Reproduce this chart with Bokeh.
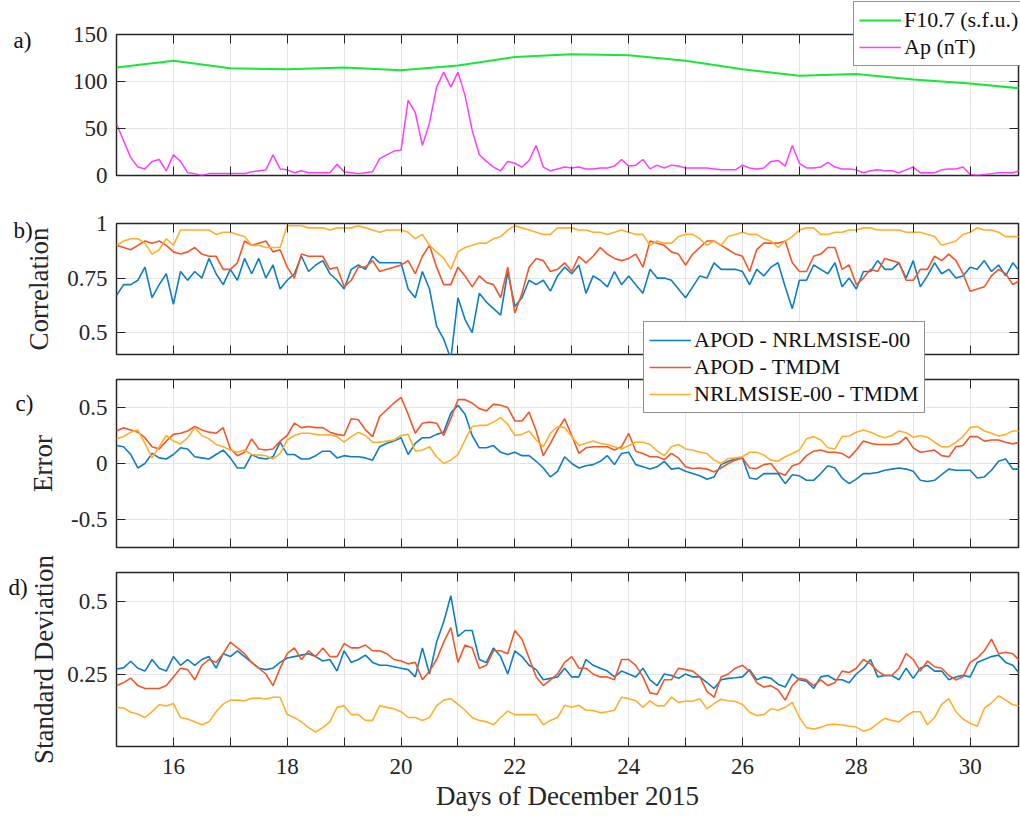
import math
import numpy as np
from bokeh.plotting import figure
from bokeh.models import (Range1d, LinearAxis, FixedTicker, Legend, LegendItem, Label,
                          CustomJSTickFormatter)
from bokeh.layouts import column
from bokeh.embed import file_html
from bokeh.resources import INLINE

# ---------------- data ----------------
f107_days = list(range(15, 32))
f107 = [115, 122, 114, 113, 115, 112, 117, 126, 129, 128, 122, 113, 106, 108, 102, 98, 92]

# 3-hourly samples starting at day 15.0
step_days = 1.0 / 8.0
ap = [55, 37, 19, 9, 7, 15, 17, 5,
      22, 15, 3, 2, 0, 2, 2, 2,
      2, 2, 2, 4, 5, 6, 22, 7,
      6, 3, 5, 3, 3, 3, 3, 12,
      4, 3, 2, 3, 4, 18, 22, 26,
      27, 80, 67, 32, 56, 94, 110, 94,
      110, 85, 48, 22, 15, 9, 5, 15,
      13, 9, 16, 32, 9, 5, 7, 9,
      8, 9, 7, 7, 8, 8, 10, 17,
      10, 11, 17, 7, 11, 8, 11, 10,
      8, 8, 8, 8, 7, 6, 6, 6,
      11, 8, 7, 8, 15, 16, 10, 32,
      13, 8, 8, 9, 14, 9, 7, 7,
      6, 3, 5, 6, 5, 5, 3, 6,
      9, 3, 3, 3, 6, 7, 7, 9,
      1, 0, 1, 2, 3, 3, 3, 5,
      5]

corr_apod_nrl = [0.67, 0.72, 0.72, 0.74, 0.80, 0.66, 0.72, 0.77, 0.63, 0.78,
                 0.74, 0.78, 0.75, 0.84, 0.77, 0.72, 0.79, 0.74, 0.84, 0.77,
                 0.84, 0.75, 0.81, 0.70, 0.74, 0.77, 0.85, 0.78, 0.81, 0.83,
                 0.77, 0.74, 0.70, 0.79, 0.81, 0.79, 0.85, 0.82, 0.82, 0.82,
                 0.82, 0.70, 0.66, 0.78, 0.70, 0.53, 0.47, 0.38, 0.66, 0.56,
                 0.50, 0.68, 0.64, 0.61, 0.58, 0.78, 0.62,
                 0.66, 0.74, 0.72, 0.74, 0.69, 0.76, 0.80, 0.77, 0.81, 0.68,
                 0.76, 0.74, 0.71, 0.78, 0.72, 0.76, 0.72, 0.68, 0.79, 0.75,
                 0.75, 0.74, 0.70, 0.66, 0.71, 0.76, 0.75, 0.82, 0.79, 0.79,
                 0.79, 0.78, 0.72, 0.79, 0.76, 0.80, 0.82, 0.71, 0.61, 0.74,
                 0.74, 0.81, 0.79, 0.77, 0.82, 0.71, 0.75, 0.70, 0.78, 0.78,
                 0.83, 0.79, 0.79, 0.82, 0.75, 0.83, 0.71, 0.76, 0.82, 0.77,
                 0.79, 0.75, 0.76, 0.80, 0.79, 0.83, 0.78, 0.81, 0.76, 0.82,
                 0.78, 0.78]
corr_apod_tmdm = [0.90, 0.89, 0.88, 0.90, 0.92, 0.91, 0.92, 0.90, 0.87, 0.86,
                  0.87, 0.89, 0.86, 0.85, 0.85, 0.79, 0.79, 0.82, 0.92, 0.90,
                  0.91, 0.92, 0.87, 0.88, 0.80, 0.75, 0.86, 0.85, 0.85, 0.85,
                  0.79, 0.80, 0.71, 0.74, 0.80, 0.80, 0.83, 0.78, 0.79, 0.80,
                  0.81, 0.83, 0.77, 0.85, 0.90, 0.80, 0.72, 0.72, 0.80, 0.76,
                  0.71, 0.76, 0.73, 0.72, 0.66, 0.80, 0.59,
                  0.68, 0.80, 0.84, 0.83, 0.78, 0.79, 0.82, 0.78, 0.85, 0.82,
                  0.85, 0.89, 0.86, 0.84, 0.83, 0.84, 0.86, 0.80, 0.92, 0.91,
                  0.90, 0.87, 0.86, 0.81, 0.86, 0.89, 0.92, 0.92, 0.90, 0.88,
                  0.86, 0.85, 0.78, 0.88, 0.91, 0.91, 0.91, 0.92, 0.82, 0.78,
                  0.78, 0.85, 0.86, 0.89, 0.89, 0.79, 0.81, 0.72, 0.75, 0.79,
                  0.78, 0.84, 0.83, 0.82, 0.74, 0.74, 0.79, 0.79, 0.85, 0.83,
                  0.86, 0.83, 0.77, 0.69, 0.70, 0.71, 0.76, 0.79, 0.77, 0.72,
                  0.74, 0.74]
corr_nrl_tmdm = [0.90, 0.92, 0.93, 0.93, 0.91, 0.86, 0.88, 0.93, 0.90, 0.97,
                 0.97, 0.97, 0.97, 0.97, 0.95, 0.96, 0.96, 0.95, 0.94, 0.90,
                 0.90, 0.89, 0.89, 0.89, 0.99, 0.99, 0.99, 0.98, 0.98, 0.98,
                 0.97, 0.98, 0.98, 0.98, 0.99, 0.98, 0.97, 0.96, 0.97, 0.97,
                 0.97, 0.96, 0.93, 0.95, 0.90, 0.87, 0.84, 0.79, 0.87, 0.89,
                 0.90, 0.91, 0.91, 0.93, 0.94, 0.97, 0.99,
                 0.98, 0.97, 0.96, 0.95, 0.95, 0.98, 0.98, 0.98, 0.97, 0.97,
                 0.96, 0.96, 0.95, 0.96, 0.97, 0.96, 0.95, 0.95, 0.90, 0.92,
                 0.91, 0.91, 0.94, 0.95, 0.95, 0.93, 0.90, 0.92, 0.90, 0.94,
                 0.95, 0.96, 0.95, 0.95, 0.93, 0.92, 0.89, 0.92, 0.94, 0.97,
                 0.98, 0.98, 0.95, 0.95, 0.96, 0.96, 0.97, 0.97, 0.98, 0.98,
                 0.97, 0.97, 0.97, 0.97, 0.96, 0.96, 0.96, 0.95, 0.94, 0.90,
                 0.91, 0.92, 0.95, 0.96, 0.98, 0.97, 0.97, 0.96, 0.94, 0.94,
                 0.94, 0.94]

err_apod_nrl = [0.16, 0.15, 0.08, -0.04, 0.00, 0.09, 0.05, 0.04, 0.08, 0.14,
                0.13, 0.06, 0.05, 0.04, 0.08, 0.12, 0.05, -0.04, -0.04, 0.08,
                0.05, 0.04, 0.06, 0.19, 0.08, 0.08, 0.04, 0.04, 0.07, 0.11,
                0.11, 0.05, 0.07, 0.06, 0.06, 0.05, 0.03, 0.15, 0.18, 0.20,
                0.23, 0.08, 0.18, 0.23, 0.23, 0.26, 0.28, 0.45, 0.52, 0.44,
                0.25, 0.14, 0.14, 0.16, 0.10, 0.08, 0.10,
                0.07, 0.07, 0.02, -0.04, -0.12, -0.07, 0.06, 0.00, -0.04, -0.02,
                -0.01, 0.02, 0.07, -0.01, 0.09, 0.10, -0.01, -0.03, -0.05, -0.03,
                0.02, -0.05, -0.04, -0.07, -0.09, -0.11, -0.14, -0.12, -0.01, 0.02,
                0.04, 0.05, -0.13, -0.14, -0.09, -0.09, -0.09, -0.18, -0.10, -0.11,
                -0.15, -0.15, -0.09, -0.02, -0.04, -0.13, -0.18, -0.14, -0.09, -0.09,
                -0.08, -0.06, -0.05, -0.04, -0.05, -0.07, -0.15, -0.16, -0.15, -0.10,
                -0.05, -0.06, -0.06, -0.06, -0.13, -0.12, -0.06, 0.02, 0.04, -0.05,
                -0.05, -0.05]
err_apod_tmdm = [0.29, 0.32, 0.30, 0.28, 0.23, 0.15, 0.13, 0.20, 0.26, 0.27,
                 0.29, 0.33, 0.30, 0.28, 0.27, 0.32, 0.13, 0.07, 0.10, 0.22,
                 0.13, 0.12, 0.13, 0.20, 0.25, 0.36, 0.32, 0.33, 0.32, 0.32,
                 0.28, 0.26, 0.25, 0.40, 0.39, 0.30, 0.24, 0.42, 0.48, 0.54,
                 0.59, 0.44, 0.27, 0.36, 0.37, 0.36, 0.25, 0.40, 0.57, 0.57,
                 0.54, 0.49, 0.47, 0.53, 0.52, 0.50, 0.38,
                 0.38, 0.46, 0.29, 0.07, 0.18, 0.30, 0.40, 0.25, 0.09, 0.14,
                 0.15, 0.15, 0.15, 0.12, 0.15, 0.27, 0.11, 0.09, 0.06, 0.06,
                 0.035, 0.09, 0.05, -0.03, -0.045, -0.04, -0.05, -0.075, -0.04, 0.0,
                 0.03, 0.05, -0.04, -0.045, -0.01, 0.0, -0.08, -0.105, -0.02, 0.0,
                 0.07, 0.11, 0.12, 0.10, 0.10, 0.09, 0.05, 0.12, 0.20, 0.18,
                 0.17, 0.17, 0.17, 0.18, 0.235, 0.14, 0.10, 0.11, 0.12, 0.07,
                 0.06, 0.15, 0.16, 0.24, 0.24, 0.20, 0.21, 0.21, 0.19, 0.175,
                 0.19, 0.19]
err_nrl_tmdm = [0.22, 0.24, 0.28, 0.30, 0.18, 0.05, 0.15, 0.25, 0.20, 0.175,
                0.23, 0.32, 0.25, 0.22, 0.17, 0.15, 0.12, 0.10, 0.12, 0.08,
                0.075, 0.07, 0.04, 0.09, 0.21, 0.25, 0.27, 0.27, 0.26, 0.255,
                0.256, 0.24, 0.19, 0.24, 0.277, 0.25, 0.19, 0.19, 0.20, 0.21,
                0.25, 0.26, 0.11, 0.12, 0.15, 0.06, 0.0, 0.03, 0.08, 0.21,
                0.33, 0.34, 0.34, 0.37, 0.41, 0.35, 0.25,
                0.26, 0.29, 0.21, 0.15, 0.27, 0.33, 0.32, 0.24, 0.16, 0.18,
                0.20, 0.18, 0.17, 0.15, 0.13, 0.16, 0.19, 0.19, 0.17, 0.11,
                0.07, 0.15, 0.17, 0.13, 0.12, 0.10, 0.09, 0.03, 0.00, 0.045,
                0.05, 0.06, 0.10, 0.10, 0.075, 0.03, 0.02, 0.06, 0.09, 0.12,
                0.22, 0.24, 0.21, 0.14, 0.13, 0.24, 0.245, 0.28, 0.30, 0.28,
                0.25, 0.23, 0.25, 0.29, 0.275, 0.235, 0.25, 0.235, 0.19, 0.15,
                0.15, 0.19, 0.24, 0.32, 0.33, 0.29, 0.27, 0.245, 0.26, 0.29,
                0.29, 0.29]

sd_apod_nrl = [0.267, 0.271, 0.294, 0.27, 0.26, 0.30, 0.27, 0.26, 0.31, 0.28,
               0.30, 0.28, 0.30, 0.31, 0.27, 0.32, 0.31, 0.33, 0.31, 0.29,
               0.27, 0.265, 0.27, 0.29, 0.305, 0.31, 0.315, 0.32, 0.31, 0.295,
               0.30, 0.26, 0.33, 0.29, 0.30, 0.315, 0.29, 0.28, 0.28, 0.275,
               0.27, 0.265, 0.24, 0.34, 0.25, 0.36, 0.43, 0.52, 0.38, 0.40,
               0.40, 0.30, 0.29, 0.34, 0.31, 0.25, 0.33,
               0.31, 0.28, 0.265, 0.23, 0.235, 0.24, 0.27, 0.24, 0.24, 0.30,
               0.28, 0.27, 0.26, 0.24, 0.26, 0.25, 0.24, 0.27, 0.23, 0.21,
               0.25, 0.245, 0.235, 0.25, 0.24, 0.24, 0.22, 0.20, 0.23, 0.235,
               0.237, 0.24, 0.265, 0.23, 0.24, 0.235, 0.215, 0.205, 0.25, 0.23,
               0.225, 0.20, 0.24, 0.245, 0.23, 0.23, 0.22, 0.25, 0.27, 0.30,
               0.24, 0.245, 0.245, 0.23, 0.27, 0.235, 0.27, 0.28, 0.26, 0.26,
               0.23, 0.24, 0.245, 0.24, 0.29, 0.30, 0.31, 0.315, 0.29, 0.28,
               0.25, 0.25]
sd_apod_tmdm = [0.21, 0.22, 0.236, 0.21, 0.20, 0.20, 0.20, 0.21, 0.24, 0.27,
                0.265, 0.23, 0.28, 0.30, 0.29, 0.32, 0.36, 0.34, 0.32, 0.29,
                0.27, 0.25, 0.21, 0.27, 0.32, 0.34, 0.30, 0.33, 0.31, 0.34,
                0.31, 0.31, 0.355, 0.34, 0.34, 0.35, 0.33, 0.33, 0.32, 0.30,
                0.295, 0.285, 0.29, 0.23, 0.26, 0.30, 0.36, 0.41, 0.29, 0.35,
                0.34, 0.27, 0.28, 0.33, 0.33, 0.32, 0.40,
                0.37, 0.305, 0.24, 0.21, 0.23, 0.25, 0.29, 0.31, 0.27, 0.27,
                0.25, 0.24, 0.24, 0.23, 0.30, 0.30, 0.28, 0.24, 0.185, 0.18,
                0.23, 0.23, 0.27, 0.265, 0.26, 0.24, 0.19, 0.17, 0.24, 0.25,
                0.27, 0.28, 0.26, 0.22, 0.205, 0.21, 0.195, 0.16, 0.21, 0.235,
                0.23, 0.21, 0.23, 0.21, 0.22, 0.26, 0.255, 0.27, 0.30, 0.285,
                0.26, 0.245, 0.245, 0.27, 0.32, 0.30, 0.26, 0.295, 0.275, 0.27,
                0.245, 0.23, 0.24, 0.29, 0.305, 0.33, 0.37, 0.32, 0.325, 0.32,
                0.295, 0.295]
sd_nrl_tmdm = [0.135, 0.133, 0.118, 0.112, 0.10, 0.12, 0.144, 0.14, 0.148, 0.10,
               0.095, 0.085, 0.075, 0.085, 0.12, 0.146, 0.16, 0.16, 0.158, 0.166,
               0.167, 0.164, 0.17, 0.17, 0.11, 0.10, 0.085, 0.065, 0.05, 0.065,
               0.085, 0.135, 0.14, 0.11, 0.11, 0.09, 0.09, 0.14, 0.135, 0.13,
               0.12, 0.10, 0.10, 0.09, 0.10, 0.14, 0.16, 0.165, 0.145, 0.125,
               0.10, 0.09, 0.085, 0.075, 0.10, 0.122, 0.11,
               0.11, 0.11, 0.11, 0.075, 0.09, 0.10, 0.142, 0.135, 0.142, 0.125,
               0.124, 0.116, 0.12, 0.125, 0.17, 0.165, 0.158, 0.135, 0.157, 0.14,
               0.14, 0.17, 0.152, 0.157, 0.156, 0.165, 0.13, 0.148, 0.163, 0.158,
               0.155, 0.145, 0.118, 0.107, 0.11, 0.13, 0.125, 0.135, 0.152, 0.10,
               0.065, 0.06, 0.066, 0.075, 0.077, 0.074, 0.07, 0.067, 0.053, 0.06,
               0.08, 0.097, 0.09, 0.085, 0.105, 0.12, 0.12, 0.075, 0.10, 0.145,
               0.165, 0.12, 0.095, 0.08, 0.07, 0.132, 0.15, 0.175, 0.16, 0.144,
               0.14, 0.14]

x_ticks = list(range(15, 32))
series_labels = ["APOD - NRLMSISE-00", "APOD - TMDM", "NRLMSISE-00 - TMDM"]
panel_names = ["a)", "b)", "c)", "d)"]

# ---------------- styling ----------------
FONT = "Liberation Serif"
DARK = "#262626"
C_BLUE = "#0F7DC2"
C_RED = "#F2572A"
C_YEL = "#FFAF2E"
C_GREEN = "#18E63A"
C_MAG = "#FF3DFF"

W, H = 1020, 818
xr = Range1d(15, 30.85)

FMT_NUM = CustomJSTickFormatter(code="return String(Math.round(tick * 1000) / 1000);")
FMT_X = CustomJSTickFormatter(code="var d = Math.round(tick); return (d % 2 === 0) ? String(d) : '';")
FMT_NONE = CustomJSTickFormatter(code="return '';")


def times(vals):
    return 15 + np.arange(len(vals)) * step_days


def style_axis(ax, show_labels):
    ax.major_tick_in = 9
    ax.major_tick_out = 0
    ax.minor_tick_in = 0
    ax.minor_tick_out = 0
    ax.major_tick_line_color = DARK
    ax.major_tick_line_width = 1
    ax.axis_line_color = None
    ax.major_label_text_font = FONT
    ax.major_label_text_color = DARK
    ax.axis_label_text_font = FONT
    ax.axis_label_text_font_style = "normal"
    ax.axis_label_text_color = DARK
    ax.axis_label_text_font_size = "27px"
    if show_labels:
        ax.major_label_text_font_size = "23px"
    else:
        ax.formatter = FMT_NONE
        ax.major_label_text_font_size = "0px"
        ax.major_label_standoff = 0


def make_panel(yr, frame_h, top, bottom, yticks, ylabel=None, show_x=False):
    p = figure(x_range=xr, y_range=Range1d(*yr), frame_width=902, frame_height=frame_h,
               min_border_left=116, min_border_right=2, min_border_top=top,
               min_border_bottom=bottom, output_backend="svg", toolbar_location=None)
    xt = FixedTicker(ticks=x_ticks)
    yt = FixedTicker(ticks=yticks)
    bx = p.xaxis[0]
    ly = p.yaxis[0]
    bx.ticker = xt
    ly.ticker = yt
    style_axis(bx, show_x)
    style_axis(ly, True)
    ly.formatter = FMT_NUM
    ly.major_label_standoff = 9
    if ylabel:
        ly.axis_label = ylabel
        ly.axis_label_standoff = 10
    if show_x:
        bx.formatter = FMT_X
        bx.major_label_standoff = 12
        bx.axis_label = "Days of December 2015"
        bx.axis_label_standoff = 4
    tx = LinearAxis(ticker=xt)
    style_axis(tx, False)
    p.add_layout(tx, "above")
    ry = LinearAxis(ticker=yt)
    style_axis(ry, False)
    p.add_layout(ry, "right")
    p.grid.grid_line_color = "#E4E4E4"
    p.grid.grid_line_width = 1
    p.outline_line_color = DARK
    p.outline_line_width = 1.5
    p.background_fill_color = "white"
    return p


def style_legend(lg):
    lg.label_text_font = FONT
    lg.label_text_font_size = "22px"
    lg.label_text_color = "#111111"
    lg.border_line_color = DARK
    lg.border_line_width = 1.5
    lg.background_fill_color = "white"
    lg.background_fill_alpha = 1.0
    lg.glyph_width = 42
    lg.glyph_height = 26
    lg.label_height = 26
    lg.label_standoff = 3
    lg.padding = 5
    lg.spacing = 1
    lg.margin = 0


# ---- panel a ----
pa = make_panel((0, 150), 141, 34, 25, [0, 50, 100, 150])
pa.line(f107_days, f107, line_color=C_GREEN, line_width=2)
pa.line(times(ap), ap, line_color=C_MAG, line_width=1.5)

# ---- panel b ----
pb = make_panel((0.4, 1.0), 131, 23, 12, [0.5, 0.75, 1.0], ylabel="Correlation")
pb.line(times(corr_apod_nrl), corr_apod_nrl, line_color=C_BLUE, line_width=1.6)
pb.line(times(corr_apod_tmdm), corr_apod_tmdm, line_color=C_RED, line_width=1.6)
pb.line(times(corr_nrl_tmdm), corr_nrl_tmdm, line_color=C_YEL, line_width=1.6)

# ---- panel c ----
pc = make_panel((-0.75, 0.75), 168, 13, 13, [-0.5, 0.0, 0.5], ylabel="Error")
pc.line(times(err_apod_nrl), err_apod_nrl, line_color=C_BLUE, line_width=1.6)
pc.line(times(err_apod_tmdm), err_apod_tmdm, line_color=C_RED, line_width=1.6)
pc.line(times(err_nrl_tmdm), err_nrl_tmdm, line_color=C_YEL, line_width=1.6)

# ---- panel d ----
pd_ = make_panel((0.0, 0.6), 174, 12, 72, [0.25, 0.5], show_x=True)
pd_.line(times(sd_apod_nrl), sd_apod_nrl, line_color=C_BLUE, line_width=1.6)
pd_.line(times(sd_apod_tmdm), sd_apod_tmdm, line_color=C_RED, line_width=1.6)
pd_.line(times(sd_nrl_tmdm), sd_nrl_tmdm, line_color=C_YEL, line_width=1.6)

# ---- transparent overlay (page pixel space) for legends and labels that cross panels ----
ov = figure(width=W, height=H, x_range=Range1d(0, W), y_range=Range1d(H, 0),
            min_border=0, min_border_left=0, min_border_right=0, min_border_top=0,
            min_border_bottom=0, output_backend="svg", toolbar_location=None,
            x_axis_location=None, y_axis_location=None)
ov.frame_align = False
ov.grid.visible = False
ov.outline_line_color = None
ov.background_fill_alpha = 0.0
ov.border_fill_alpha = 0.0
ov.margin = (-H, 0, 0, 0)

# legend keys (one blank point each, styled like the panel lines)
nan = [float("nan")]
k_f = ov.line(nan, nan, line_color=C_GREEN, line_width=2)
k_ap = ov.line(nan, nan, line_color=C_MAG, line_width=1.5)
k_1 = ov.line(nan, nan, line_color=C_BLUE, line_width=1.6)
k_2 = ov.line(nan, nan, line_color=C_RED, line_width=1.6)
k_3 = ov.line(nan, nan, line_color=C_YEL, line_width=1.6)

leg_a = Legend(items=[LegendItem(label="F10.7 (s.f.u.)", renderers=[k_f]),
                      LegendItem(label="Ap (nT)", renderers=[k_ap])],
               location=(853, H - 66))
style_legend(leg_a)
ov.add_layout(leg_a, "center")

leg_c = Legend(items=[LegendItem(label=series_labels[0], renderers=[k_1]),
                      LegendItem(label=series_labels[1], renderers=[k_2]),
                      LegendItem(label=series_labels[2], renderers=[k_3])],
               location=(643, H - 413))
style_legend(leg_c)
ov.add_layout(leg_c, "center")

for name, lx, ly in zip(panel_names, [13, 13, 15, 8], [40, 230, 403, 587]):
    ov.add_layout(Label(x=lx, y=ly, text=name, text_font=FONT, text_font_size="23px",
                        text_color="#111111", text_baseline="alphabetic"))

ov.add_layout(Label(x=43, y=659, text="Standard Deviation", angle=math.pi / 2,
                    text_align="center", text_baseline="middle", text_font=FONT,
                    text_font_size="27px", text_color=DARK))

layout = column(pa, pb, pc, pd_, ov, spacing=0)
open("out.html", "w").write(file_html(layout, INLINE))
